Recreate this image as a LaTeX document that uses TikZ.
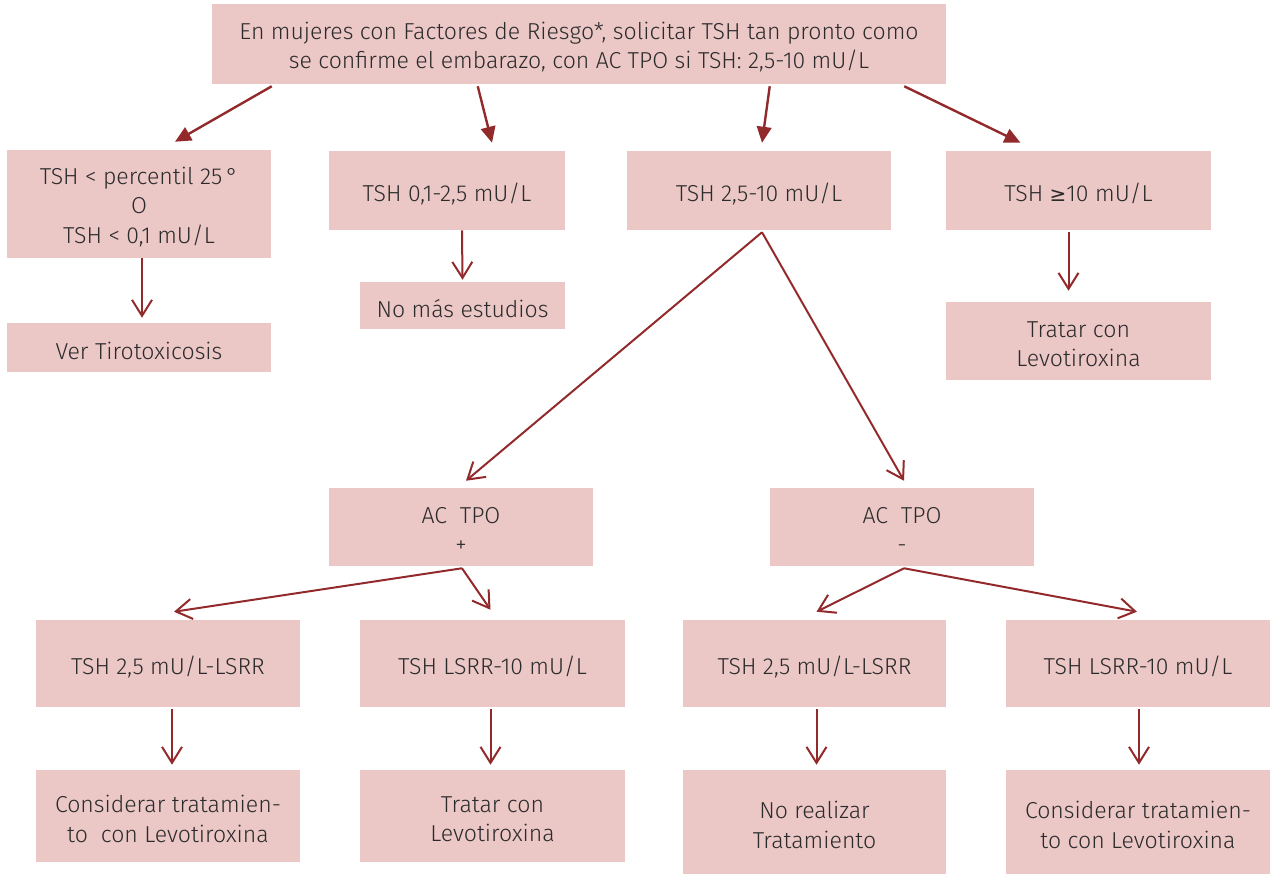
\documentclass[tikz,border=0pt]{standalone}
\usepackage{fontspec}
\setmainfont{Fira Sans}[UprightFont=* Light]
\newfontfamily\symfont{DejaVu Sans}
\usetikzlibrary{arrows.meta,calc}
\definecolor{boxfill}{HTML}{EBC7C6}
\definecolor{arrowred}{HTML}{922A2C}
\definecolor{ink}{HTML}{2B2B2B}
% box given by its corners (left, top, right, bottom) in picture units;
% the label sits slightly below the geometric centre
\newcommand{\flowbox}[6]{%
  \node[box, minimum width={(#4-#2)*0.75pt}, minimum height={(#5-#3)*0.75pt}]
    (#1) at ({(#2+#4)/2},{(#3+#5)/2}) {};
  \node[boxtext] at ($(#1.center)+(0,3)$) {#6};}
\begin{document}
\begin{tikzpicture}[x=0.75pt,y=-0.75pt,
  box/.style={fill=boxfill, draw=none, inner sep=0pt},
  boxtext/.style={text=ink, align=center, inner sep=0pt,
    font=\fontsize{17.3}{22}\selectfont},
  solidarrow/.style={draw=arrowred, line width=1.8pt, -{Triangle[length=12pt,width=11pt]}},
  openarrow/.style={draw=arrowred, line width=1.5pt, -{Straight Barb[length=12pt,width=15pt]}},
]
\useasboundingbox (0,0) rectangle (1275,875);

% boxes
\flowbox{top}{212}{4}{946}{84}{En mujeres con Factores de Riesgo*, solicitar TSH tan pronto como\\se confirme el embarazo, con AC TPO si TSH: 2,5-10 mU/L}
\flowbox{b1}{7}{150}{271}{258}{TSH < percentil 25\,°\\O\\TSH < 0,1 mU/L}
\flowbox{b2}{329}{151}{565}{230}{TSH 0,1-2,5 mU/L}
\flowbox{b3}{627}{151}{891}{230}{TSH 2,5-10 mU/L}
\flowbox{b4}{946}{151}{1211}{230}{TSH {\symfont\fontsize{15}{22}\selectfont ≥}10 mU/L}
\flowbox{c1}{7}{323}{271}{372}{Ver Tirotoxicosis}
\flowbox{c2}{360}{282}{565}{329}{No más estudios}
\flowbox{c4}{946}{302}{1211}{380}{Tratar con\\Levotiroxina}
\flowbox{acp}{329}{488}{593}{566}{AC\ \ TPO\\+}
\flowbox{acn}{770}{488}{1034}{566}{AC\ \ TPO\\-}
\flowbox{r3a}{36}{620}{300}{707}{TSH 2,5 mU/L-LSRR}
\flowbox{r3b}{360}{620}{625}{707}{TSH LSRR-10 mU/L}
\flowbox{r3c}{683}{620}{946}{707}{TSH 2,5 mU/L-LSRR}
\flowbox{r3d}{1006}{620}{1270}{707}{TSH LSRR-10 mU/L}
\flowbox{r4a}{36}{770}{300}{862}{Considerar tratamien-\\to\ \ con Levotiroxina}
\flowbox{r4b}{360}{770}{625}{862}{Tratar con\\Levotiroxina}
\flowbox{r4c}{683}{770}{946}{874}{No realizar\\Tratamiento}
\flowbox{r4d}{1006}{770}{1270}{874}{Considerar tratamien-\\to con Levotiroxina}

% first split
\draw[solidarrow] ($(top.south west)+(60,2)$) -- ($(b1.north)+(36,-8)$);
\draw[solidarrow] ($(top.south west)+(266,2)$) -- ($(b2.north)+(45,-8)$);
\draw[solidarrow] ($(top.south west)+(558,2)$) -- ($(b3.north)+(3,-8)$);
\draw[solidarrow] ($(top.south east)+(-42,2)$) -- ($(b4.north)+(-58,-8)$);

% follow-up steps
\draw[openarrow] ($(b1.south)+(3,0)$) -- ($(c1.north)+(3,-5)$);
\draw[openarrow] ($(b2.south)+(15,0)$) -- ($(c2.north)+(0,-2)$);
\draw[openarrow] ($(b4.south)+(-10,2)$) -- ($(c4.north)+(-10,-11)$);
\draw[openarrow] ($(b3.south)+(3,2)$) -- ($(acp.north)+(5,-7)$);
\draw[openarrow] ($(b3.south)+(3,2)$) -- ($(acn.north)+(2,-7)$);
\draw[openarrow] ($(acp.south)+(1,2)$) -- ($(r3a.north)+(6,-8)$);
\draw[openarrow] ($(acp.south)+(1,2)$) -- ($(r3b.north)+(-2,-10)$);
\draw[openarrow] ($(acn.south)+(2,2)$) -- ($(r3c.north)+(2,-8)$);
\draw[openarrow] ($(acn.south)+(2,2)$) -- ($(r3d.north)+(-1,-8)$);
\draw[openarrow] ($(r3a.south)+(4,2)$) -- ($(r4a.north)+(4,-5)$);
\draw[openarrow] ($(r3b.south)+(-2,2)$) -- ($(r4b.north)+(-2,-5)$);
\draw[openarrow] ($(r3c.south)+(2,2)$) -- ($(r4c.north)+(2,-5)$);
\draw[openarrow] ($(r3d.south)+(1,2)$) -- ($(r4d.north)+(1,-5)$);
\end{tikzpicture}
\end{document}
